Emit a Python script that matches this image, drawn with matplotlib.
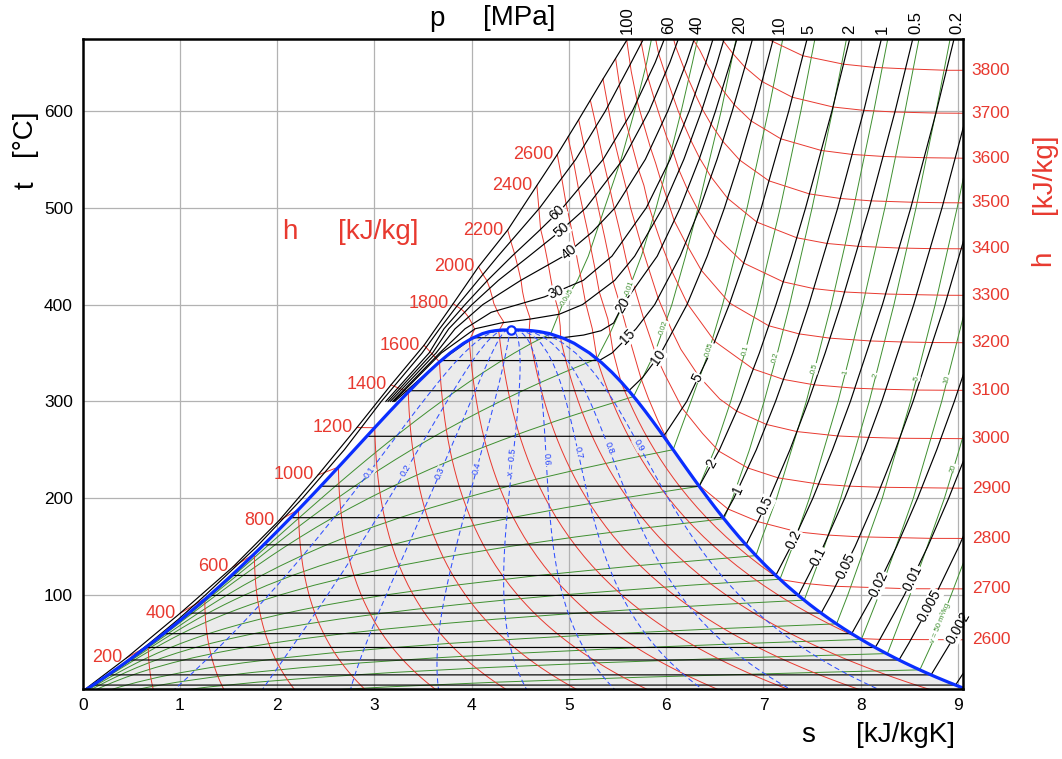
import numpy as np
import matplotlib.pyplot as plt

plt.rcParams['font.family'] = ['Liberation Sans', 'DejaVu Sans']

# Saturation table of water: t [°C], s' s'' [kJ/kgK], h' h'' [kJ/kg], v' v'' [m3/kg]
sat_t = [0.01, 5, 10, 15, 20, 25, 30, 35, 40, 45, 50, 55, 60, 65, 70, 75, 80, 85, 90, 95, 100,
         110, 120, 130, 140, 150, 160, 170, 180, 190, 200, 210, 220, 230, 240, 250, 260, 270, 280, 290, 300,
         310, 320, 330, 340, 350, 360, 365, 370, 372, 373, 373.7, 373.95]
sat_sf = [0.0000, 0.0763, 0.1511, 0.2245, 0.2965, 0.3672, 0.4368, 0.5051, 0.5724, 0.6386, 0.7038,
          0.7680, 0.8313, 0.8937, 0.9551, 1.0158, 1.0756, 1.1346, 1.1929, 1.2504, 1.3072,
          1.4188, 1.5279, 1.6346, 1.7392, 1.8418, 1.9426, 2.0417, 2.1392, 2.2355, 2.3305,
          2.4245, 2.5177, 2.6101, 2.7020, 2.7935, 2.8849, 2.9765, 3.0685, 3.1612, 3.2552,
          3.3510, 3.4494, 3.5518, 3.6601, 3.7784, 3.9167, 4.0018, 4.1112, 4.18, 4.24, 4.31, 4.407]
sat_sg = [9.1556, 9.0249, 8.8999, 8.7803, 8.6661, 8.5567, 8.4520, 8.3517, 8.2557, 8.1634, 8.0749,
          7.9899, 7.9082, 7.8296, 7.7540, 7.6812, 7.6111, 7.5435, 7.4781, 7.4151, 7.3541,
          7.2381, 7.1291, 7.0264, 6.9293, 6.8371, 6.7491, 6.6650, 6.5840, 6.5059, 6.4302,
          6.3563, 6.2840, 6.2128, 6.1423, 6.0721, 6.0016, 5.9304, 5.8579, 5.7834, 5.7059,
          5.6244, 5.5372, 5.4422, 5.3356, 5.2110, 5.0536, 4.9473, 4.8012, 4.70, 4.62, 4.52, 4.407]
sat_hf = [0.0, 21.0, 42.0, 63.0, 83.9, 104.8, 125.7, 146.6, 167.5, 188.4, 209.3,
          230.3, 251.2, 272.1, 293.1, 314.0, 335.0, 356.0, 377.0, 398.1, 419.2,
          461.4, 503.8, 546.4, 589.2, 632.2, 675.5, 719.1, 763.1, 807.4, 852.3,
          897.6, 943.6, 990.1, 1037.5, 1085.7, 1135.0, 1185.3, 1236.9, 1290.0, 1345.0,
          1402.2, 1462.2, 1525.9, 1594.5, 1670.9, 1761.7, 1818.1, 1890.7, 1940.0, 1975.0, 2020.0, 2084.3]
sat_hg = [2500.9, 2510.1, 2519.2, 2528.4, 2537.4, 2546.5, 2555.6, 2564.6, 2573.5, 2582.4, 2591.3,
          2600.1, 2608.8, 2617.5, 2626.1, 2634.6, 2643.0, 2651.4, 2659.6, 2667.6, 2675.6,
          2691.1, 2705.9, 2720.1, 2733.5, 2745.9, 2757.4, 2767.9, 2777.2, 2785.3, 2792.0,
          2797.3, 2800.9, 2802.9, 2803.0, 2800.9, 2796.6, 2789.7, 2779.9, 2766.7, 2749.6,
          2727.9, 2700.6, 2666.0, 2621.8, 2563.6, 2481.5, 2420.5, 2334.5, 2260.0, 2210.0, 2155.0, 2084.3]
sat_vf = [0.001000, 0.001000, 0.001000, 0.001001, 0.001002, 0.001003, 0.001004, 0.001006, 0.001008, 0.001010, 0.001012,
          0.001015, 0.001017, 0.001020, 0.001023, 0.001026, 0.001029, 0.001032, 0.001036, 0.001040, 0.001043,
          0.001052, 0.001060, 0.001070, 0.001080, 0.001091, 0.001102, 0.001114, 0.001127, 0.001141, 0.001157,
          0.001173, 0.001190, 0.001209, 0.001229, 0.001252, 0.001276, 0.001303, 0.001332, 0.001366, 0.001404,
          0.001447, 0.001499, 0.001561, 0.001638, 0.001740, 0.001895, 0.002019, 0.002217, 0.00245, 0.00262, 0.00283, 0.003106]
sat_vg = [206.0, 147.03, 106.32, 77.885, 57.762, 43.340, 32.879, 25.205, 19.515, 15.251, 12.026,
          9.5639, 7.6670, 6.1935, 5.0396, 4.1291, 3.4053, 2.8261, 2.3593, 1.9808, 1.6720,
          1.2094, 0.89133, 0.66808, 0.50850, 0.39248, 0.30680, 0.24283, 0.19405, 0.15654, 0.12721,
          0.10441, 0.08619, 0.07158, 0.05976, 0.05008, 0.04221, 0.03564, 0.03017, 0.02557, 0.02167,
          0.01834, 0.01548, 0.01298, 0.01079, 0.00881, 0.00695, 0.005979, 0.00493, 0.0042, 0.00375, 0.0034, 0.003106]
crit_s, crit_t = 4.407, 373.95

# Isobars [MPa] as (s, t) points
isobars = {
    '100': [(-0.01, 0), (0.45, 35), (1.0, 81), (1.545, 129), (2.02, 177), (2.42, 224), (2.82, 273), (3.17, 317),
            (3.51, 358), (3.81, 401), (4.07, 439), (4.37, 477), (4.67, 523), (4.88, 555), (5.10, 591), (5.35, 633),
            (5.60, 674), (5.75, 700)],
    '80': [(0, 0), (0.37, 25), (0.685, 50), (0.985, 75), (1.262, 100), (1.79, 150), (2.26, 200), (2.69, 250),
           (3.071, 300), (3.49, 350), (3.67, 375), (3.86, 400), (4.27, 450), (4.70, 500), (5.07, 550), (5.375, 600),
           (5.64, 650), (5.90, 700)],
    '60': [(3.117, 300), (3.562, 350), (3.7149, 375), (3.9317, 400), (4.163, 425), (4.414, 450), (4.68, 475),
           (4.9356, 500), (5.3517, 550), (5.6527, 600), (5.8867, 650), (6.0814, 700)],
    '50': [(3.14, 300), (3.598, 350), (3.7642, 375), (4.0029, 400), (4.2746, 425), (4.5896, 450), (4.90, 475),
           (5.1762, 500), (5.5563, 550), (5.8245, 600), (6.0373, 650), (6.2179, 700)],
    '40': [(3.163, 300), (3.634, 350), (3.829, 375), (4.1145, 400), (4.5044, 425), (4.9449, 450), (5.24, 475),
           (5.4744, 500), (5.7857, 550), (6.017, 600), (6.2078, 650), (6.374, 700)],
    '30': [(3.186, 300), (3.67, 350), (3.9313, 375), (4.2, 392), (4.4758, 400), (4.75, 408), (5.1473, 425),
           (5.4422, 450), (5.7956, 500), (6.0403, 550), (6.2373, 600), (6.4074, 650), (6.5599, 700)],
    '25': [(3.198, 300), (3.688, 350), (4.0345, 375), (4.3, 381), (4.6, 385), (4.9, 390), (5.14, 400),
           (5.4707, 425), (5.6759, 450), (5.9642, 500), (6.1816, 550), (6.3637, 600), (6.5242, 650), (6.6702, 700)],
    '20': [(3.209, 300), (3.655, 340), (4.0145, 365.75), (4.9314, 365.75), (5.15, 368.5), (5.33, 373), (5.46, 381),
           (5.5553, 400), (5.9077, 450), (6.1446, 500), (6.339, 550), (6.5075, 600), (6.6593, 650), (6.799, 700)],
    '15': [(3.6848, 342.16), (5.3108, 342.16), (5.4432, 350), (5.69, 375), (5.8817, 400), (6.1433, 450),
           (6.3479, 500), (6.523, 550), (6.6797, 600), (6.8224, 650), (6.9561, 700)],
    '10': [(3.3603, 311.0), (5.6159, 311.0), (5.7596, 325), (5.946, 350), (6.2141, 400), (6.4219, 450),
           (6.5995, 500), (6.7585, 550), (6.9045, 600), (7.1693, 700)],
    '5': [(2.9207, 263.94), (5.9737, 263.94), (6.211, 300), (6.4516, 350), (6.6483, 400), (6.821, 450),
          (6.9781, 500), (7.2605, 600), (7.5136, 700)],
    '2': [(2.4467, 212.38), (6.339, 212.38), (6.5475, 250), (6.7684, 300), (6.9583, 350), (7.1292, 400),
          (7.2866, 450), (7.4337, 500), (7.7043, 600), (7.95, 700)],
    '1': [(2.1381, 179.88), (6.585, 179.88), (6.6956, 200), (6.9265, 250), (7.1246, 300), (7.3029, 350),
          (7.467, 400), (7.7642, 500), (8.0311, 600), (8.2755, 700)],
    '0.5': [(1.8604, 151.83), (6.8207, 151.83), (7.061, 200), (7.2725, 250), (7.4614, 300), (7.6346, 350),
            (7.7956, 400), (8.0893, 500), (8.3544, 600), (8.5978, 700)],
    '0.2': [(1.5302, 120.21), (7.127, 120.21), (7.281, 150), (7.5081, 200), (7.71, 250), (7.8941, 300),
            (8.2236, 400), (8.5153, 500), (8.7793, 600), (9.0221, 700)],
    '0.1': [(1.3028, 99.61), (7.3589, 99.61), (7.6148, 150), (7.8356, 200), (8.0346, 250), (8.2171, 300),
            (8.5452, 400), (8.8362, 500), (9.0999, 600)],
    '0.05': [(1.0912, 81.32), (7.5931, 81.32), (7.6953, 100), (7.9413, 150), (8.1592, 200), (8.3568, 250),
             (8.5387, 300), (8.8659, 400), (9.1566, 500)],
    '0.02': [(0.832, 60.06), (7.9073, 60.06), (8.129, 100), (8.369, 150), (8.585, 200), (8.782, 250),
             (8.963, 300), (9.13, 350)],
    '0.01': [(0.6492, 45.81), (8.1488, 45.81), (8.1741, 50), (8.4489, 100), (8.6893, 150), (8.9049, 200),
             (9.1015, 250)],
    '0.005': [(0.4762, 32.88), (8.3938, 32.88), (8.494, 50), (8.769, 100), (9.009, 150), (9.225, 200)],
    '0.002': [(0.2607, 17.5), (8.7237, 17.5), (8.92, 50), (9.087, 80), (9.19, 100)],
    '0.001': [(0.1059, 6.97), (8.9749, 6.97), (9.06, 20), (9.207, 44)],
}
isobar_label_t = {'60': 494.6, '50': 477, '40': 454.5, '30': 413, '20': 399.6, '15': 366.5, '10': 345.8,
                  '5': 324, '2': 236, '1': 209, '0.5': 192, '0.2': 157, '0.1': 140, '0.05': 130,
                  '0.02': 111, '0.01': 117, '0.005': 89, '0.002': 66}
top_p_labels = ['100', '60', '40', '20', '10', '5', '2', '1', '0.5', '0.2']
top_p_s = [5.60, 6.02, 6.32, 6.76, 7.16, 7.47, 7.89, 8.22, 8.57, 8.99]

# Isenthalps [kJ/kg]: part above / left of the two-phase region, and part at low pressure
h_upper = {
    200: [(0.45, 35), (0.675, 47.8)],
    400: [(1.0, 81), (1.244, 95.5)],
    600: [(1.545, 129), (1.765, 142.5)],
    800: [(2.02, 177), (2.219, 188.3)],
    1000: [(2.42, 224), (2.629, 232.1)],
    1200: [(2.82, 273), (3.002, 272.8)],
    1400: [(3.17, 317), (3.348, 309.6)],
    1600: [(3.51, 358), (3.669, 340.7)],
    1800: [(3.81, 401), (3.85, 398), (3.891, 395.4), (3.928, 392.1), (3.967, 387.1), (4.012, 378.7),
           (4.03, 374.5), (3.975, 363)],
    2000: [(4.07, 439), (4.11, 432), (4.157, 424.6), (4.185, 416.9), (4.215, 406.4), (4.228, 401),
           (4.275, 390.8), (4.33, 382), (4.276, 372.2)],
    2200: [(4.37, 477), (4.40, 466), (4.44, 452.8), (4.471, 440.6), (4.507, 425.2), (4.522, 413.7),
           (4.545, 402.6), (4.60, 386), (4.59, 372.1)],
    2400: [(4.67, 523), (4.69, 500), (4.708, 478.2), (4.744, 463.2), (4.788, 441.1), (4.8125, 427.2),
           (4.8373, 413.5), (4.89, 394.3), (4.91, 378), (4.915, 365.5)],
    2600: [(4.88, 555), (4.93, 528), (4.97, 504.5), (5.01, 486), (5.06, 461), (5.09, 444), (5.13, 424.4),
           (5.17, 402.3), (5.24, 375), (5.289, 343.7)],
    2700: [(4.99, 573), (5.05, 546), (5.098, 519.6), (5.145, 497.4), (5.197, 473.8), (5.233, 454.4),
           (5.271, 435.5), (5.312, 413), (5.40, 385), (5.454, 351.3), (5.535, 320.2)],
    2800: [(5.10, 591), (5.16, 562), (5.222, 534.6), (5.274, 512.8), (5.33, 486.5), (5.367, 469.7),
           (5.413, 447.5), (5.4537, 423.7), (5.529, 398.6), (5.61, 369), (5.742, 323.3), (5.816, 303.3),
           (5.918, 279.3), (5.985, 265.5), (6.06, 252)],
    2900: [(5.22, 611), (5.29, 580), (5.351, 549.7), (5.399, 529.3), (5.466, 499.2), (5.501, 485), (5.548, 465),
           (5.601, 440.9), (5.675, 417), (5.765, 386.6), (5.907, 344.7), (5.984, 328.1), (6.165, 292.9),
           (6.374, 266.8), (6.541, 248.6), (6.84, 231.2), (7.15, 221), (7.567, 214.6), (7.885, 212.4),
           (8.204, 211.3), (8.946, 210.4), (9.2, 210.3)],
    3000: [(5.35, 633), (5.41, 600), (5.467, 569.2), (5.524, 545.8), (5.592, 518.9), (5.633, 500.1), (5.68, 483.9),
           (5.743, 461.6), (5.819, 437.4), (5.917, 406.7), (6.063, 371.9), (6.15, 353.9), (6.336, 325.9),
           (6.551, 302.4), (6.724, 290), (7.03, 276.2), (7.344, 268.8), (7.763, 264.3), (8.081, 262.8),
           (8.4, 261.9), (9.2, 261.4)],
    3100: [(5.48, 654), (5.53, 620), (5.585, 588.9), (5.644, 566.4), (5.717, 539), (5.7705, 523.2), (5.815, 503.9),
           (5.876, 484.7), (5.958, 460.7), (6.06, 434.1), (6.218, 400.9), (6.499, 362), (6.895, 333.4),
           (7.2055, 322.7), (7.5206, 317.1), (7.939, 313.6), (8.2555, 312.5), (8.577, 311.7), (9.2, 311.3)],
    3200: [(5.59, 676), (5.64, 641), (5.701, 610.3), (5.762, 588.4), (5.8395, 561.6), (5.892, 545.9),
           (5.9405, 529.6), (6.007, 509.9), (6.082, 486.7), (6.2, 463.8), (6.361, 435.4), (6.653, 401.5),
           (7.0543, 378.1), (7.3675, 369.7), (7.684, 365.3), (8.1003, 362.4), (8.4168, 361.4), (8.738, 360.8),
           (9.2, 360.5)],
    3300: [(5.73, 680), (5.75, 667), (5.813, 634.2), (5.877, 612.4), (5.958, 587.1), (6.006, 572.7), (6.071, 557.8),
           (6.1325, 538.7), (6.218, 519), (6.333, 496.5), (6.499, 471.7), (6.796, 442.9), (7.203, 423.5),
           (7.516, 416.5), (7.834, 413), (8.255, 410.9), (8.575, 410.2), (8.894, 409.6), (9.2, 409.5)],
    3400: [(5.88, 680), (5.922, 659.1), (5.989, 638.6), (6.072, 614.5), (6.123, 600), (6.182, 586),
           (6.253, 569.7), (6.3435, 551.3), (6.46, 532), (6.631, 509.8), (6.932, 485.2), (7.3425, 469),
           (7.6545, 463.1), (7.972, 460.2), (8.394, 458.4), (8.713, 457.8), (9.2, 457.5)],
    3500: [(6.06, 680), (6.097, 666.5), (6.184, 643.7), (6.2355, 631.2), (6.297, 617.5), (6.37, 602.1),
           (6.4615, 586.3), (6.5816, 568.7), (6.756, 549.2), (7.0566, 527.8), (7.4724, 514.3), (7.7898, 509.6),
           (8.1081, 507.1), (8.53, 505.7), (8.85, 505.2), (9.2, 505)],
    3600: [(6.24, 680), (6.344, 663), (6.408, 650.2), (6.482, 636.9), (6.5755, 622.4), (6.698, 606.6),
           (6.874, 589.6), (7.179, 571.2), (7.594, 559.2), (7.911, 555.1), (8.23, 553), (8.652, 551.7),
           (8.971, 551.3), (9.2, 551)],
    3700: [(6.53, 680), (6.59, 672), (6.685, 659.3), (6.809, 645.3), (6.985, 630.4), (7.296, 614.2),
           (7.714, 604.1), (8.033, 600.6), (8.352, 598.9), (8.774, 597.8), (9.2, 597.5)],
    3800: [(6.92, 680), (7.09, 672), (7.405, 657), (7.823, 648.3), (8.141, 645), (8.46, 643.5), (8.881, 642),
           (9.2, 642)],
}
h_lower = {
    2600: [(7.99, 55), (8.197, 54.2), (8.517, 54), (8.94, 53.8), (9.2, 53.7)],
    2700: [(7.172, 116), (7.422, 112), (7.739, 109), (8.48, 106.5), (9.2, 106.3)],
    2800: [(6.302, 217.5), (6.343, 213), (6.634, 188.9), (6.95, 175.6), (7.35, 165.2), (7.667, 161.9),
           (7.985, 160.1), (8.726, 158.5), (9.2, 158.4)],
}
h_left_labels = [200, 400, 600, 800, 1000, 1200, 1400, 1600, 1800, 2000, 2200, 2400, 2600]
h_right_labels = [2600, 2700, 2800, 2900, 3000, 3100, 3200, 3300, 3400, 3500, 3600, 3700, 3800]

# Isochores [m3/kg], superheated / supercritical part
v_superheated = {
    '0.005': [(4.812, 369.6), (4.934, 400), (5.088, 425), (5.199, 450), (5.367, 500), (5.536, 550), (5.675, 600),
              (5.80, 650), (5.90, 700)],
    '0.01': [(5.286, 344), (5.42, 370), (5.556, 400), (5.7445, 450), (5.897, 500), (6.03, 550), (6.155, 600),
             (6.27, 650), (6.38, 700)],
    '0.02': [(5.665, 305), (5.763, 325.5), (5.882, 350), (6.0585, 400), (6.199, 450), (6.3276, 500),
             (6.5654, 600), (6.772, 700)],
    '0.05': [(6.0714, 250.1), (6.2545, 300), (6.4335, 350), (6.58, 400), (6.832, 500), (7.051, 600), (7.25, 700)],
    '0.1': [(6.339, 212.3), (6.497, 250), (6.6635, 300), (6.8076, 350), (6.938, 400), (7.173, 500), (7.385, 600),
            (7.579, 700)],
    '0.2': [(6.5937, 178.8), (6.682, 200), (6.856, 250), (7.007, 300), (7.1435, 350), (7.27, 400), (7.5006, 500),
            (7.71, 600), (7.9035, 700)],
    '0.5': [(6.923, 140.7), (6.988, 160), (7.136, 200), (7.441, 300), (7.698, 400), (7.927, 500), (8.135, 600),
            (8.328, 700)],
    '1': [(7.1694, 116.3), (7.30, 150), (7.4725, 200), (7.7675, 300), (8.0215, 400), (8.2488, 500), (8.456, 600),
          (8.649, 700)],
    '2': [(7.419, 94.7), (7.626, 150), (7.795, 200), (8.088, 300), (8.342, 400), (8.569, 500), (8.776, 600),
          (8.969, 700)],
    '5': [(7.752, 70.2), (7.867, 100), (8.222, 200), (8.513, 300), (8.766, 400), (8.992, 500), (9.199, 600)],
    '10': [(8.007, 54.1), (8.187, 100), (8.541, 200), (8.833, 300), (9.087, 400)],
    '20': [(8.275, 39.5), (8.507, 100), (8.861, 200), (9.0125, 250), (9.1525, 300)],
    '50': [(8.608, 22.7), (8.733, 50), (8.93, 100), (9.119, 150)],
}
v_label_t = {'0.005': 407.6, '0.01': 418, '0.02': 376, '0.05': 353, '0.1': 353, '0.2': 345, '0.5': 334,
             '1': 330, '2': 327, '5': 324, '10': 323, '20': 231, '50': 71}

qualities = [0.1, 0.2, 0.3, 0.4, 0.5, 0.6, 0.7, 0.8, 0.9]
quality_label_t = [227, 229, 226, 231, 237, 240, 247, 252, 255]

x_ticks = list(range(10))
y_ticks = [100, 200, 300, 400, 500, 600]

RED = '#e8392f'
GREEN = '#3f8f30'
BLUE = '#0a2eff'
DASH_BLUE = '#3050ff'

T = np.array(sat_t)
SF, SG = np.array(sat_sf), np.array(sat_sg)
HF, HG = np.array(sat_hf), np.array(sat_hg)
VF, VG = np.array(sat_vf), np.array(sat_vg)

fig = plt.figure(figsize=(10.62, 7.59), dpi=100)
ax = fig.add_axes([82.7 / 1062, 1 - 689.3 / 759, 880.6 / 1062, 650.0 / 759])
ax.set_xlim(0, 9.055)
ax.set_ylim(2.6, 674)

# two-phase region
ax.fill(np.concatenate([SF, SG[::-1]]), np.concatenate([T, T[::-1]]), color='#ebebeb', lw=0, zorder=1)
for xs in x_ticks[1:]:
    ax.axvline(xs, color='#b2b2b2', lw=0.9, zorder=1.2)
for yt in y_ticks:
    ax.axhline(yt, color='#b2b2b2', lw=0.9, zorder=1.2)


def dome_points(value, lo, hi):
    x = (value - lo[:-1]) / (hi[:-1] - lo[:-1])
    s = SF[:-1] + x * (SG[:-1] - SF[:-1])
    keep = (x >= 0) & (x <= 1)
    return T[:-1][keep], s[keep]


def text_angle(s_arr, t_arr, t0, dt=6.0):
    sa = np.interp(t0 - dt, t_arr, s_arr)
    sb = np.interp(t0 + dt, t_arr, s_arr)
    (xa, ya), (xb, yb) = ax.transData.transform([(sa, t0 - dt), (sb, t0 + dt)])
    ang = np.degrees(np.arctan2(yb - ya, xb - xa))
    if ang > 90:
        ang -= 180
    return ang


def rising_tail(pts):
    pts = np.array(pts, dtype=float)
    k = 0
    for i in range(1, len(pts)):
        if pts[i, 1] == pts[i - 1, 1]:
            k = i
    return pts[k:]


# isochores
for v, pts in v_superheated.items():
    sup = np.array(pts)
    td, sd = dome_points(float(v), VF, VG)
    keep = td < sup[0, 1]
    ax.plot(np.concatenate([sd[keep], sup[:, 0]]), np.concatenate([td[keep], sup[:, 1]]),
            color=GREEN, lw=0.7, zorder=2)
    t0 = v_label_t[v]
    s0 = np.interp(t0, sup[:, 1], sup[:, 0])
    txt = 'v = 50 m³/kg' if v == '50' else v
    ax.text(s0, t0, txt, color=GREEN, fontsize=5.5, ha='center', va='center', zorder=4,
            rotation=text_angle(sup[:, 0], sup[:, 1], t0), rotation_mode='anchor',
            bbox=dict(facecolor='white', edgecolor='none', pad=0.3))

# isenthalps
for h, upper in h_upper.items():
    up = np.array(upper)
    low = np.array(h_lower.get(h, np.empty((0, 2))))
    td, sd = dome_points(h, HF, HG)
    keep = td < up[-1, 1]
    if len(low):
        keep &= td > low[0, 1]
    order = np.argsort(-td[keep])
    s_line = np.concatenate([up[:, 0], sd[keep][order], low[:, 0]])
    t_line = np.concatenate([up[:, 1], td[keep][order], low[:, 1]])
    ax.plot(s_line, t_line, color=RED, lw=0.7, zorder=2.2)
    if h in h_left_labels:
        ax.annotate(str(h), xy=(up[0, 0], up[0, 1]), xytext=(-3, 0), textcoords='offset points',
                    ha='right', va='center', color=RED, fontsize=13, zorder=4)
    if h in h_right_labels:
        ax.annotate(str(h), xy=(1, t_line[-1]), xycoords=('axes fraction', 'data'), xytext=(6, 0),
                    textcoords='offset points', ha='left', va='center', color=RED, fontsize=12.5,
                    annotation_clip=False)

# isobars
for p, pts in isobars.items():
    arr = np.array(pts)
    ax.plot(arr[:, 0], arr[:, 1], color='black', lw=0.85, zorder=2.4)
    if p in isobar_label_t:
        tail = rising_tail(pts)
        t0 = isobar_label_t[p]
        s0 = np.interp(t0, tail[:, 1], tail[:, 0])
        ax.text(s0, t0, p, fontsize=10, ha='center', va='center', zorder=4,
                rotation=text_angle(tail[:, 0], tail[:, 1], t0), rotation_mode='anchor',
                bbox=dict(facecolor='white', edgecolor='none', pad=0.4))

# lines of constant quality
for x, t0 in zip(qualities, quality_label_t):
    sx = SF + x * (SG - SF)
    ax.plot(sx, T, color=DASH_BLUE, lw=0.75, ls=(0, (5, 3)), zorder=2.6)
    s0 = np.interp(t0, T, sx)
    txt = 'x = 0.5' if x == 0.5 else f'{x:.1f}'
    ax.text(s0, t0, txt, color='#2040ff', fontsize=6.5, ha='center', va='center', zorder=4,
            rotation=text_angle(sx, T, t0), rotation_mode='anchor',
            bbox=dict(facecolor='#ebebeb', edgecolor='none', pad=0.3))

# saturation line and critical point
ax.plot(np.concatenate([SF, SG[::-1]]), np.concatenate([T, T[::-1]]), color=BLUE, lw=2.3, zorder=3)
ax.plot(crit_s, crit_t, 'o', ms=6, mfc='white', mec=BLUE, mew=1.6, zorder=5)

for lbl, s in zip(top_p_labels, top_p_s):
    ax.annotate(lbl, xy=(s, 1), xycoords=('data', 'axes fraction'), xytext=(0, 3.5),
                textcoords='offset points', rotation=90, ha='center', va='bottom', fontsize=12,
                annotation_clip=False)

ax.text(2.13, 475, 'h', color=RED, fontsize=20, ha='center', va='center')
ax.text(3.04, 475, '[kJ/kg]', color=RED, fontsize=20, ha='center', va='center')

ax.set_xticks(x_ticks)
ax.set_yticks(y_ticks)
ax.tick_params(length=0, labelsize=12.5)
ax.tick_params(axis='x', pad=6)
ax.tick_params(axis='y', pad=7)
for sp in ax.spines.values():
    sp.set_linewidth(1.8)
    sp.set_zorder(6)

fig.text(437 / 1062, 1 - 19 / 759, 'p', fontsize=20, ha='center', va='center')
fig.text(519 / 1062, 1 - 18 / 759, '[MPa]', fontsize=20, ha='center', va='center')
fig.text(808 / 1062, 1 - 735 / 759, 's', fontsize=20, ha='center', va='center')
fig.text(905 / 1062, 1 - 735 / 759, '[kJ/kgK]', fontsize=20, ha='center', va='center')
fig.text(27 / 1062, 1 - 185 / 759, 't', fontsize=20, rotation=90, ha='center', va='center')
fig.text(24 / 1062, 1 - 133 / 759, '[°C]', fontsize=20, rotation=90, ha='center', va='center')
fig.text(1043 / 1062, 1 - 258 / 759, 'h', fontsize=20, rotation=90, ha='center', va='center', color=RED)
fig.text(1044 / 1062, 1 - 174 / 759, '[kJ/kg]', fontsize=20, rotation=90, ha='center', va='center', color=RED)

fig.savefig('out.png', dpi=100, facecolor='white')
